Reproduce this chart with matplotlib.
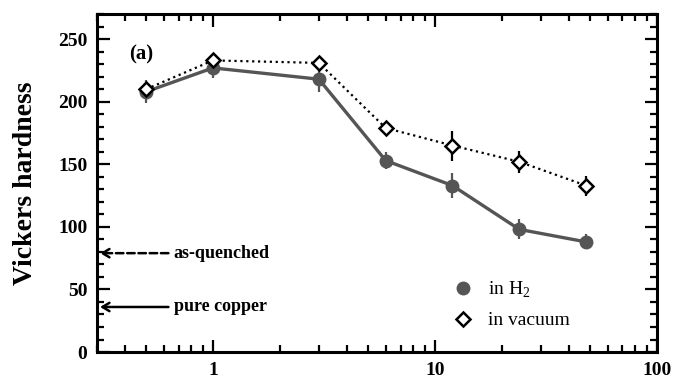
import matplotlib
matplotlib.use("Agg")
import matplotlib.pyplot as plt
from matplotlib.lines import Line2D
from matplotlib.ticker import MultipleLocator, LogLocator, NullFormatter, FixedLocator, FixedFormatter

plt.rcParams['font.family'] = ['Liberation Serif', 'DejaVu Serif']
plt.rcParams['mathtext.fontset'] = 'custom'
plt.rcParams['mathtext.rm'] = 'Liberation Serif'

time_h = [0.5, 1, 3, 6, 12, 24, 48]
hv_h2 = [208, 227, 218, 153, 133, 98, 88]
err_h2 = [9, 8, 10, 7, 10, 8, 6]
hv_vac = [210, 233, 231, 179, 165, 152, 133]
err_vac = [4, 5, 4, 5, 12, 9, 8]
ref_levels = [79, 36]
ref_labels = ['as-quenched', 'pure copper']
ref_styles = [(0, (3, 1.5)), '-']

fig = plt.figure(figsize=(6.73, 3.81), dpi=100)
ax = fig.add_axes([0.144, 0.076, 0.832, 0.887])

h2c = '#555555'
ax.errorbar(time_h, hv_h2, yerr=err_h2, color=h2c, lw=2.4, marker='o', ms=9,
            mfc=h2c, mec=h2c, elinewidth=1.6, capsize=0, zorder=3)
ax.errorbar(time_h, hv_vac, yerr=err_vac, color='black', lw=1.6, ls=':', marker='D', ms=7.5,
            mfc='white', mec='black', mew=1.8, elinewidth=1.6, capsize=0, zorder=4)

ax.set_xscale('log')
ax.set_xlim(0.3, 100)
ax.set_ylim(0, 270)

ax.xaxis.set_major_locator(FixedLocator([1, 10, 100]))
ax.xaxis.set_major_formatter(FixedFormatter(['1', '10', '100']))
ax.xaxis.set_minor_locator(LogLocator(base=10, subs=range(2, 10)))
ax.xaxis.set_minor_formatter(NullFormatter())
ax.yaxis.set_major_locator(MultipleLocator(50))
ax.yaxis.set_minor_locator(MultipleLocator(10))

ax.tick_params(which='both', direction='in', top=True, right=True, labelsize=14, width=1.6)
ax.tick_params(which='major', length=9, pad=7)
ax.tick_params(which='minor', length=5)
for lab in ax.get_xticklabels() + ax.get_yticklabels():
    lab.set_fontweight('bold')
for s in ax.spines.values():
    s.set_linewidth(2.2)

ax.set_ylabel('Vickers hardness', fontsize=20, fontweight='bold', labelpad=14)
ax.text(0.42, 238, '(a)', fontsize=15, fontweight='bold', ha='left', va='center')

for lvl, lab, st in zip(ref_levels, ref_labels, ref_styles):
    ax.annotate('', xy=(0.31, lvl), xytext=(0.63, lvl),
                arrowprops=dict(arrowstyle='->,head_length=0.5,head_width=0.3', ls=st, lw=1.8,
                                color='black', shrinkA=0, shrinkB=0))
    ax.text(0.665, lvl, lab, fontsize=13, fontweight='bold', va='center', ha='left')

handles = [Line2D([], [], ls='None', marker='o', ms=9, mfc=h2c, mec=h2c),
           Line2D([], [], ls='None', marker='D', ms=7.5, mfc='white', mec='black', mew=1.8)]
leg = ax.legend(handles, ['in H$_\\mathregular{2}$', 'in vacuum'], loc='lower left',
                bbox_to_anchor=(0.605, 0.015), frameon=False, prop={'size': 14, 'weight': 'normal'},
                handlelength=1.0, handletextpad=0.8, labelspacing=0.6)

fig.savefig('out.png', dpi=100)
